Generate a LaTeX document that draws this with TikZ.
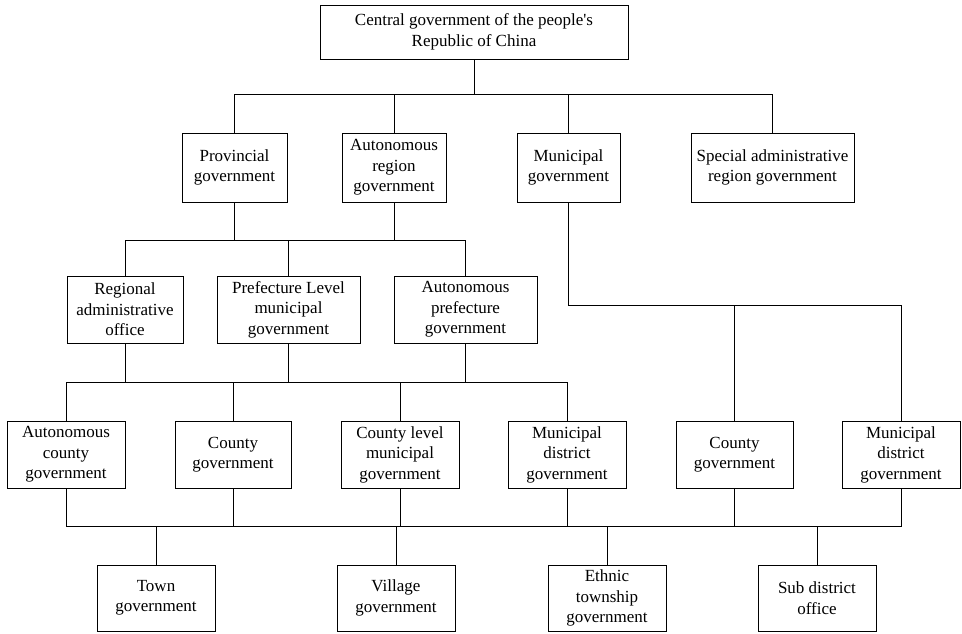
\documentclass[tikz,border=0pt]{standalone}
\usepackage{fontspec}
\setmainfont{Liberation Serif}
\begin{document}
\begin{tikzpicture}[x=1pt,y=-1pt,
  box/.style={draw, line width=0.8pt, align=center, inner sep=0pt,
    font=\fontsize{17}{20.5}\selectfont},
  link/.style={line width=0.8pt}]
\useasboundingbox[fill=white] (0,0) rectangle (962,634);

% level 1
\node[box, minimum width=308pt, minimum height=54pt] (top) at (474,32)
  {Central government of the people\textquotesingle s\\Republic of China};

% level 2
\node[box, minimum width=105pt, minimum height=69pt] (prov) at (234.5,167.5) {Provincial\\government};
\node[box, minimum width=104pt, minimum height=69pt] (autreg) at (394,167.5) {Autonomous\\region\\government};
\node[box, minimum width=103pt, minimum height=69pt] (muni) at (568.5,167.5) {Municipal\\government};
\node[box, minimum width=163pt, minimum height=69pt] (sar) at (772.5,167.5) {Special administrative\\region government};

% level 3
\node[box, minimum width=116pt, minimum height=67pt] (regional) at (125,309.5) {Regional\\administrative\\office};
\node[box, minimum width=143pt, minimum height=67pt] (pref) at (288.5,309.5) {Prefecture Level\\municipal\\government};
\node[box, minimum width=143pt, minimum height=67pt] (autpref) at (465.5,309.5) {Autonomous\\prefecture\\government};

% level 4
\node[box, minimum width=118pt, minimum height=67pt] (autcounty) at (66,454.5) {Autonomous\\county\\government};
\node[box, minimum width=116pt, minimum height=67pt] (county) at (233,454.5) {County\\government};
\node[box, minimum width=118pt, minimum height=67pt] (clm) at (400,454.5) {County level\\municipal\\government};
\node[box, minimum width=118pt, minimum height=67pt] (md) at (567,454.5) {Municipal\\district\\government};
\node[box, minimum width=117pt, minimum height=67pt] (countyb) at (734.5,454.5) {County\\government};
\node[box, minimum width=118pt, minimum height=67pt] (mdb) at (901,454.5) {Municipal\\district\\government};

% level 5
\node[box, minimum width=118pt, minimum height=66pt] (town) at (156,598) {Town\\government};
\node[box, minimum width=118pt, minimum height=66pt] (village) at (396,598) {Village\\government};
\node[box, minimum width=118pt, minimum height=66pt] (ethnic) at (607,598) {Ethnic\\township\\government};
\node[box, minimum width=118pt, minimum height=66pt] (sub) at (817,598) {Sub district\\office};

% bus heights
\coordinate (b1) at (0,94);
\coordinate (b2) at (0,240);
\coordinate (b3) at (0,305);
\coordinate (b4) at (0,382);
\coordinate (b5) at (0,526);

% central -> level 2
\draw[link] (top.south) -- (top.south |- b1);
\draw[link] (prov.north) |- (sar.north |- b1) -- (sar.north);
\draw[link] (autreg.north) -- (autreg.north |- b1);
\draw[link] (muni.north) -- (muni.north |- b1);

% provinces -> level 3
\draw[link] (prov.south) -- (prov.south |- b2);
\draw[link] (autreg.south) -- (autreg.south |- b2);
\draw[link] (regional.north) |- (autpref.north |- b2) -- (autpref.north);
\draw[link] (pref.north) -- (pref.north |- b2);

% municipal -> its districts and counties
\draw[link] (muni.south) |- (mdb.north |- b3) -- (mdb.north);
\draw[link] (countyb.north) -- (countyb.north |- b3);

% level 3 -> level 4
\draw[link] (regional.south) -- (regional.south |- b4);
\draw[link] (pref.south) -- (pref.south |- b4);
\draw[link] (autpref.south) -- (autpref.south |- b4);
\draw[link] (autcounty.north) |- (md.north |- b4) -- (md.north);
\draw[link] (county.north) -- (county.north |- b4);
\draw[link] (clm.north) -- (clm.north |- b4);

% level 4 -> level 5
\draw[link] (autcounty.south) |- (mdb.south |- b5) -- (mdb.south);
\draw[link] (county.south) -- (county.south |- b5);
\draw[link] (clm.south) -- (clm.south |- b5);
\draw[link] (md.south) -- (md.south |- b5);
\draw[link] (countyb.south) -- (countyb.south |- b5);
\draw[link] (town.north) -- (town.north |- b5);
\draw[link] (village.north) -- (village.north |- b5);
\draw[link] (ethnic.north) -- (ethnic.north |- b5);
\draw[link] (sub.north) -- (sub.north |- b5);
\end{tikzpicture}
\end{document}
